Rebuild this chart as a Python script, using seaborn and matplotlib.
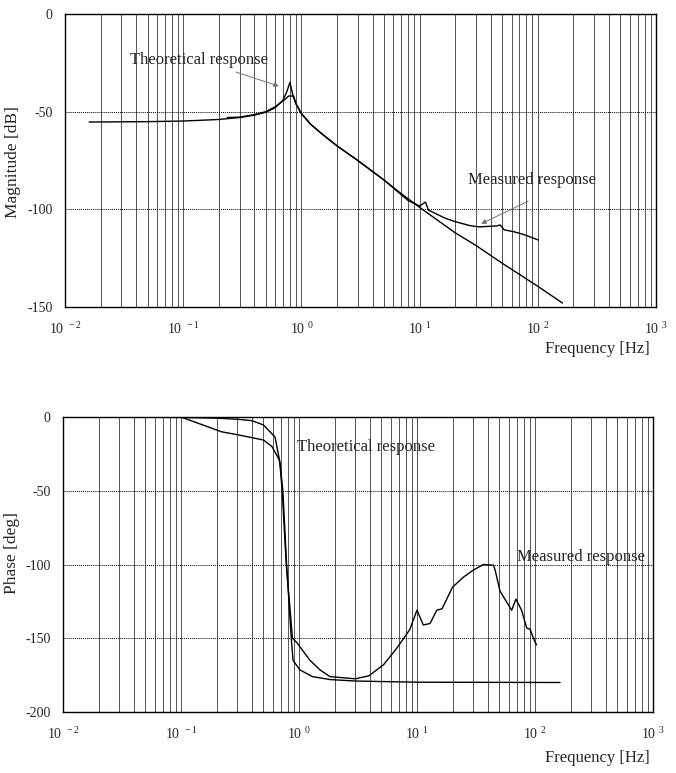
import numpy as np
import pandas as pd
import matplotlib
matplotlib.use("Agg")
import matplotlib.pyplot as plt
import seaborn as sns

# ---------------- data ----------------
mag_theo_f = [0.016, 0.03, 0.05, 0.1, 0.2, 0.3, 0.4, 0.5, 0.6, 0.7, 0.75, 0.8, 0.85, 0.9, 1.0, 1.2, 1.5, 2, 3, 5, 7, 10, 20, 30, 50, 100, 162]
mag_theo_db = [-55.3, -55.2, -55.1, -54.8, -54.0, -53.0, -51.8, -50.3, -48.0, -44.0, -40.0, -35.0, -42.0, -46.0, -51.0, -56.5, -61.5, -67.5, -75.0, -85.0, -92.0, -99.0, -112.0, -118.5, -127.6, -139.4, -148.0]

mag_meas_f = [0.236, 0.3, 0.4, 0.5, 0.6, 0.7, 0.78, 0.86, 0.9, 1.0, 1.2, 1.5, 2, 3, 5, 8, 10, 11.2, 11.9, 16.4, 20, 26.5, 31.7, 45, 48, 52, 63, 77, 101]
mag_meas_db = [-53.0, -52.8, -51.5, -50.0, -47.5, -44.5, -42.0, -42.0, -46.0, -51.0, -56.5, -61.5, -67.5, -75.0, -85.0, -95.5, -98.3, -96.3, -100.4, -104.5, -106.3, -108.3, -109.0, -108.5, -108.0, -110.5, -111.5, -113.0, -115.7]

ph_theo_f = [0.016, 0.1, 0.2, 0.3, 0.4, 0.5, 0.627, 0.69, 0.73, 0.785, 0.86, 0.89, 1.02, 1.3, 1.83, 3, 10, 163]
ph_theo_deg = [0.0, -0.3, -0.8, -1.5, -2.5, -5.4, -13.6, -31.0, -50.0, -100.0, -150.0, -165.0, -171.5, -176.0, -178.0, -179.0, -179.8, -180.0]

ph_meas_f = [0.1, 0.22, 0.3, 0.5, 0.59, 0.68, 0.69, 0.72, 0.78, 0.88, 0.96, 1.24, 1.51, 1.83, 3.0, 3.9, 5.2, 6.7, 8.2, 8.7, 9.3, 10.0, 11.3, 12.9, 14.7, 16.3, 20, 24.7, 30, 36.5, 44.5, 46, 50.5, 63.4, 69, 77, 85, 91, 98, 103]
ph_meas_deg = [0.0, -10.0, -12.0, -15.6, -20.0, -29.0, -32.0, -50.0, -100.0, -150.0, -153.0, -165.0, -171.5, -176.0, -177.5, -175.5, -168.0, -157.0, -147.0, -144.0, -137.6, -131.0, -141.0, -140.0, -131.0, -130.0, -115.4, -108.6, -103.8, -100.0, -100.5, -104.0, -118.0, -131.0, -123.5, -131.0, -143.0, -144.0, -151.0, -154.5]

xtick_vals = [1e-2, 1e-1, 1e0, 1e1, 1e2, 1e3]
xtick_labels = [r"$\mathregular{10^{\ -2}}$", r"$\mathregular{10^{\ -1}}$", r"$\mathregular{10^{\ 0}}$",
                r"$\mathregular{10^{\ 1}}$", r"$\mathregular{10^{\ 2}}$", r"$\mathregular{10^{\ 3}}$"]
mag_yticks = [0, -50, -100, -150]
ph_yticks = [0, -50, -100, -150, -200]

# ---------------- style ----------------
sns.set_style("white")
plt.rcParams["font.family"] = ["Liberation Serif", "DejaVu Serif"]
plt.rcParams["mathtext.fontset"] = "custom"
plt.rcParams["mathtext.rm"] = "Liberation Serif"
plt.rcParams["axes.unicode_minus"] = False

fig = plt.figure(figsize=(6.76, 7.73), dpi=100)
W, H = 676, 773
ax1 = fig.add_axes([65 / W, 1 - 307 / H, (656 - 65) / W, (307 - 14) / H])
ax2 = fig.add_axes([63 / W, 1 - 712 / H, (653 - 63) / W, (712 - 417) / H])

df_mt = pd.DataFrame({"f": mag_theo_f, "v": mag_theo_db})
df_mm = pd.DataFrame({"f": mag_meas_f, "v": mag_meas_db})
df_pt = pd.DataFrame({"f": ph_theo_f, "v": ph_theo_deg})
df_pm = pd.DataFrame({"f": ph_meas_f, "v": ph_meas_deg})

line_kw = dict(color="black", linewidth=1.0, estimator=None, sort=False, legend=False)
sns.lineplot(data=df_mt, x="f", y="v", ax=ax1, **line_kw)
sns.lineplot(data=df_mm, x="f", y="v", ax=ax1, **line_kw)
sns.lineplot(data=df_pt, x="f", y="v", ax=ax2, **line_kw)
sns.lineplot(data=df_pm, x="f", y="v", ax=ax2, **line_kw)

for ax, yt, ylim in [(ax1, mag_yticks, (-150, 0)), (ax2, ph_yticks, (-200, 0))]:
    ax.set_xscale("log")
    ax.set_xlim(1e-2, 1e3)
    ax.set_ylim(*ylim)
    ax.set_xticks(xtick_vals)
    ax.set_xticklabels(xtick_labels, fontsize=10)
    ax.set_xticks([m * 10.0 ** e for e in range(-2, 3) for m in range(2, 10)], minor=True)
    ax.set_yticks(yt)
    ax.set_yticklabels([str(v) for v in yt], fontsize=10)
    ax.grid(True, which="both", axis="x", color="0.15", linewidth=0.55, linestyle="-")
    ax.grid(True, which="major", axis="y", color="black", linewidth=0.7, linestyle=(0, (1, 1)))
    ax.tick_params(axis="both", which="both", length=0)
    ax.tick_params(axis="y", pad=9)
    ax.tick_params(axis="x", pad=10)
    ax.set_xlabel("")
    ax.set_ylabel("")
    for s in ax.spines.values():
        s.set_color("black")
        s.set_linewidth(1.0)
    ax.set_axisbelow(True)

# annotations
arrow = dict(arrowstyle="-|>", color="0.45", lw=0.7, mutation_scale=7)
ax1.annotate("Theoretical response", xy=(0.678, -37.4), xytext=(0.0355, -23.5),
             fontsize=12, ha="left", va="center", arrowprops=arrow)
ax1.annotate("Measured response", xy=(31.6, -108.0), xytext=(25.5, -85.0),
             fontsize=12, ha="left", va="center")
ax1.annotate("", xy=(31.6, -108.0), xytext=(87.3, -95.2), arrowprops=arrow)
ax2.text(0.962, -20.3, "Theoretical response", fontsize=12, ha="left", va="center")
ax2.text(70.3, -95.0, "Measured response", fontsize=12, ha="left", va="center")

fig.text(597 / W, 1 - 349 / H, "Frequency [Hz]", fontsize=12, ha="center", va="center")
fig.text(597 / W, 1 - 758 / H, "Frequency [Hz]", fontsize=12, ha="center", va="center")
fig.text(13 / W, 1 - 162 / H, "Magnitude [dB]", fontsize=12.5, ha="center", va="center", rotation=90)
fig.text(12 / W, 1 - 553 / H, "Phase [deg]", fontsize=12.5, ha="center", va="center", rotation=90)

fig.savefig("out.png", dpi=100)
